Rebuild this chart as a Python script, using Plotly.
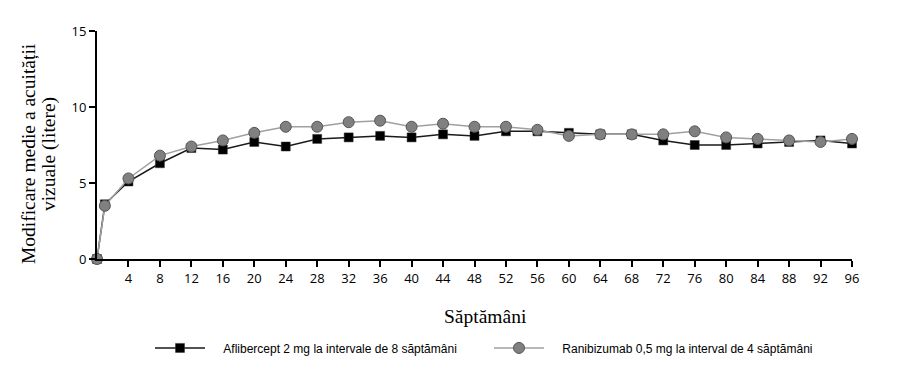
import plotly.graph_objects as go

weeks = [0, 1, 4, 8, 12, 16, 20, 24, 28, 32, 36, 40, 44, 48, 52, 56, 60, 64, 68, 72, 76, 80, 84, 88, 92, 96]
aflibercept = [0, 3.6, 5.1, 6.3, 7.3, 7.2, 7.7, 7.4, 7.9, 8.0, 8.1, 8.0, 8.2, 8.1, 8.4, 8.4, 8.3, 8.2, 8.2, 7.8, 7.5, 7.5, 7.6, 7.7, 7.8, 7.6]
ranibizumab = [0, 3.5, 5.3, 6.8, 7.4, 7.8, 8.3, 8.7, 8.7, 9.0, 9.1, 8.7, 8.9, 8.7, 8.7, 8.5, 8.1, 8.2, 8.2, 8.2, 8.4, 8.0, 7.9, 7.8, 7.7, 7.9]
x_ticks = list(range(4, 97, 4))
y_ticks = [0, 5, 10, 15]
name_a = "Aflibercept 2 mg la intervale de 8 săptămâni"
name_r = "Ranibizumab 0,5 mg la interval de 4 săptămâni"
y_title_1 = "Modificare medie a acuității"
y_title_2 = "vizuale (litere)"
x_title = "Săptămâni"

pad = "\u00a0" * 4  # visual gap between legend symbol and text

fig = go.Figure()
fig.add_trace(go.Scatter(
    x=weeks, y=aflibercept, name=pad + name_a, mode="lines+markers",
    line=dict(color="#1a1a1a", width=1.5),
    marker=dict(symbol="square", size=9, color="black", line=dict(color="#333", width=0.5)),
    cliponaxis=False,
))
fig.add_trace(go.Scatter(
    x=weeks, y=ranibizumab, name=pad + name_r, mode="lines+markers",
    line=dict(color="#a0a0a0", width=1.5),
    marker=dict(symbol="circle", size=11, color="#808080", line=dict(color="#555", width=1)),
    cliponaxis=False,
))

serif = dict(family="Liberation Serif, Times New Roman", size=19.5, color="black")
fig.update_layout(
    width=905, height=381,
    margin=dict(l=97, r=53, t=31, b=122),
    plot_bgcolor="white", paper_bgcolor="white",
    showlegend=True,
    legend=dict(orientation="h", x=(150 - 97) / 755, xanchor="left", y=-0.39, yanchor="middle",
                font=dict(family="Liberation Sans, Arial", size=12, color="black"),
                itemwidth=50, entrywidthmode="pixels", entrywidth=274),
    xaxis=dict(range=[0, 96], tickmode="array", tickvals=x_ticks, ticktext=[str(v) for v in x_ticks],
               showline=True, linecolor="black", linewidth=2, ticks="outside", ticklen=6,
               tickwidth=2, tickcolor="black", showgrid=False, zeroline=False,
               tickfont=dict(family="Open Sans", size=13, color="black")),
    yaxis=dict(range=[0, 15], tickmode="array", tickvals=y_ticks,
               showline=True, linecolor="black", linewidth=2, ticks="outside", ticklen=6,
               tickwidth=2, tickcolor="black", showgrid=False, zeroline=False,
               tickfont=dict(family="Open Sans", size=13, color="black")),
    annotations=[
        dict(text=y_title_1, xref="paper", yref="paper", x=(28 - 97) / 755, y=0.46,
             xanchor="center", yanchor="middle", textangle=-90, showarrow=False, font=serif),
        dict(text=y_title_2, xref="paper", yref="paper", x=(49 - 97) / 755, y=0.46,
             xanchor="center", yanchor="middle", textangle=-90, showarrow=False, font=serif),
        dict(text=x_title, xref="paper", yref="paper", x=0.514, y=-0.25, xanchor="center", yanchor="middle",
             showarrow=False, font=serif),
    ],
)

fig.write_html("out.html")
